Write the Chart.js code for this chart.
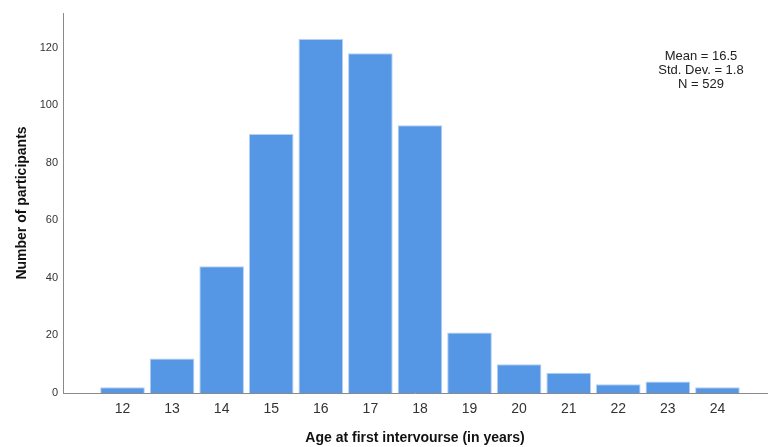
<!DOCTYPE html>
<html>
<head>
<meta charset="utf-8">
<script src="https://cdn.jsdelivr.net/npm/chart.js@4/dist/chart.umd.min.js"></script>
<style>
html,body{margin:0;padding:0;background:#fff;}
#wrap{width:768px;height:447px;position:relative;}
</style>
</head>
<body>
<div id="wrap"><canvas id="c" width="768" height="447"></canvas></div>
<script>
const ages = [12,13,14,15,16,17,18,19,20,21,22,23,24];
const counts = [2,12,44,90,123,118,93,21,10,7,3,4,2];
const yTicks = [0,20,40,60,80,100,120];
const statsLines = ['Mean = 16.5','Std. Dev. = 1.8','N = 529'];
const xTitle = 'Age at first intervourse (in years)';
const yTitle = 'Number of participants';

const statsPlugin = {
  id:'stats',
  afterDraw(chart){
    const ctx = chart.ctx;
    ctx.save();
    ctx.font = '13px "Liberation Sans", Arial, sans-serif';
    ctx.fillStyle = '#222';
    ctx.textAlign = 'center';
    ctx.textBaseline = 'middle';
    statsLines.forEach((t,i)=>ctx.fillText(t, 701, 56 + i*14));
    ctx.restore();
  }
};

new Chart(document.getElementById('c'), {
  type:'bar',
  data:{
    datasets:[{
      data: ages.map((a,i)=>({x:a,y:counts[i]})),
      backgroundColor:'#5596e5',
      borderColor:'#b4d0f4',
      borderWidth:1,
      barPercentage:0.9,
      categoryPercentage:1.0
    }]
  },
  options:{
    responsive:false,
    animation:false,
    layout:{padding:{top:13,right:1,left:0,bottom:0}},
    plugins:{legend:{display:false},tooltip:{enabled:false}},
    scales:{
      x:{
        type:'linear',
        min:10.8, max:25.0,
        offset:false,
        grid:{display:false, drawTicks:false},
        border:{display:true,color:'#8a8a8a',width:1},
        afterBuildTicks(s){ s.ticks = ages.map(v=>({value:v})); },
        ticks:{font:{family:'"Liberation Sans", Arial, sans-serif',size:14},color:'#333',padding:8,autoSkip:false,maxRotation:0},
        title:{display:true,text:xTitle,font:{family:'"Liberation Sans", Arial, sans-serif',size:14,weight:'bold'},color:'#111',padding:{top:10,bottom:0}},
        afterFit(s){ s.height = 54; }
      },
      y:{
        min:0, max:132,
        grid:{display:false, drawTicks:false},
        border:{display:true,color:'#8a8a8a',width:1},
        afterBuildTicks(s){ s.ticks = yTicks.map(v=>({value:v})); },
        ticks:{font:{family:'"Liberation Sans", Arial, sans-serif',size:11},color:'#333',padding:5},
        title:{display:true,text:yTitle,font:{family:'"Liberation Sans", Arial, sans-serif',size:14,weight:'bold'},color:'#111',padding:{top:14,bottom:0}},
        afterFit(s){ s.width = 63; }
      }
    }
  },
  plugins:[statsPlugin]
});
</script>
</body>
</html>
